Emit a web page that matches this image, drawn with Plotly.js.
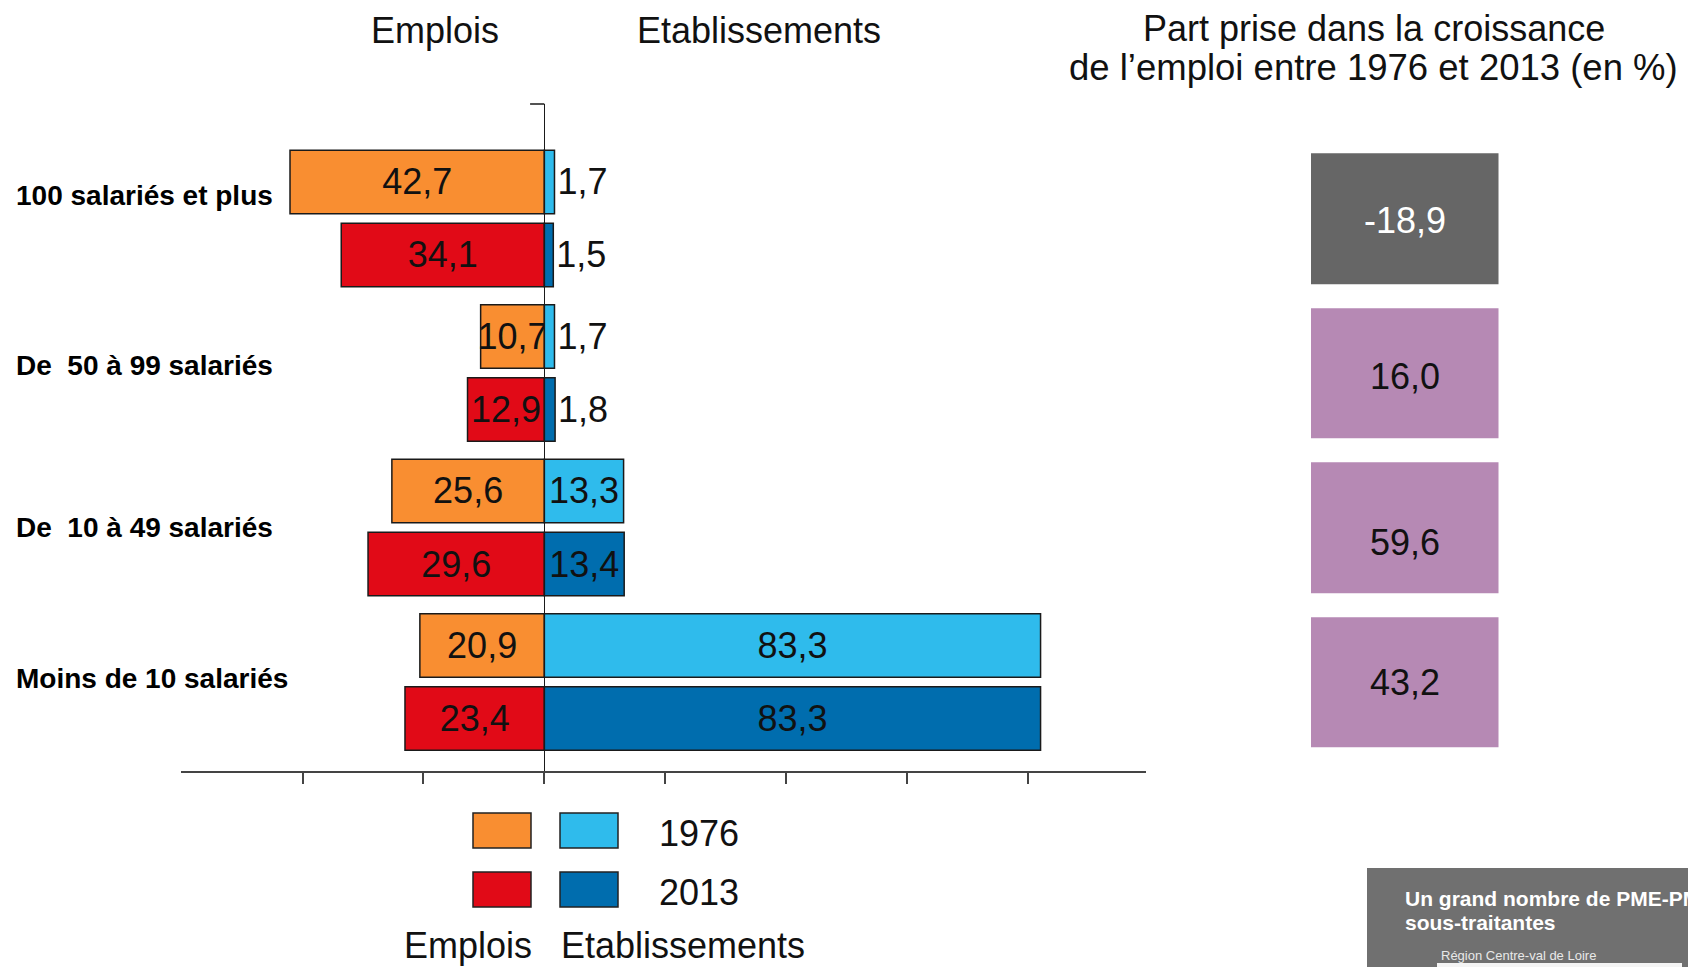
<!DOCTYPE html>
<html>
<head>
<meta charset="utf-8">
<script src="https://cdn.plot.ly/plotly-3.0.1.min.js"></script>
<style>html,body{margin:0;padding:0;background:#fff;overflow:hidden}</style>
</head>
<body>
<div id="chart" style="width:1688px;height:967px"></div>
<script>
// ---- data ----
const categories = ['100 salariés et plus', 'De \u00a050 à 99 salariés', 'De \u00a010 à 49 salariés', 'Moins de 10 salariés'];
const emplois1976 = [42.7, 10.7, 25.6, 20.9];
const emplois2013 = [34.1, 12.9, 29.6, 23.4];
const etab1976 = [1.7, 1.7, 13.3, 83.3];
const etab2013 = [1.5, 1.8, 13.4, 83.3];
const partCroissance = [-18.9, 16.0, 59.6, 43.2];
const years = ['1976', '2013'];

// ---- styles ----
const FONT = 'Liberation Sans, Arial, Helvetica, sans-serif';
const C_EMP76 = '#F98E31', C_EMP13 = '#E10A17', C_ETA76 = '#2FBBEC', C_ETA13 = '#006DAE';
const C_NEG = '#666666', C_POS = '#B689B4';
const etabTextPos = ['outside', 'outside', 'inside', 'inside'];
const labelShift = [23, 7, 0, 4];
const boxTextShift = [-2, -4, -15, 0];
const TICK_STEP = 20.3;

const W = 1688, H = 967, ML = 181, MR = 10, MT = 104, MB = 196;
const PW = W - ML - MR, PH = H - MT - MB;
const px = x => (x - ML) / PW;
const py = y => (H - MB - y) / PH;
const fmt = v => v.toFixed(1).replace('.', ',');

function barTrace(vals, sign, color, group, textpos) {
  return {
    type: 'bar', orientation: 'h',
    y: categories, x: vals.map(v => sign * v),
    text: vals.map(fmt), textposition: textpos,
    offsetgroup: group,
    marker: {color: color, line: {color: '#1a1a1a', width: 1.5}},
    textfont: {family: FONT, size: 36, color: '#111'},
    insidetextanchor: 'middle', textangle: 0, constraintext: 'none',
    cliponaxis: false, hoverinfo: 'skip', showlegend: false
  };
}

const traces = [
  barTrace(emplois1976, -1, C_EMP76, years[0], 'inside'),
  barTrace(emplois2013, -1, C_EMP13, years[1], 'inside'),
  barTrace(etab1976, 1, C_ETA76, years[0], etabTextPos),
  barTrace(etab2013, 1, C_ETA13, years[1], etabTextPos),
  {
    type: 'heatmap', x: [0], y: categories, z: partCroissance.map(v => [v]),
    xaxis: 'x2', yaxis: 'y', zmin: -1, zmax: 1,
    colorscale: [[0, C_NEG], [0.5, C_NEG], [0.5, C_POS], [1, C_POS]],
    showscale: false, ygap: 24, xgap: 0, hoverinfo: 'skip'
  }
];

const ann = [];
function txt(text, x, y, size, opts) {
  ann.push(Object.assign({
    text: text, xref: 'paper', yref: 'paper', x: px(x), y: py(y),
    xanchor: 'center', yanchor: 'middle', showarrow: false,
    font: {family: FONT, size: size, color: '#111'}
  }, opts || {}));
}
txt('Emplois', 435, 30, 36);
txt('Etablissements', 759, 30, 36);
txt('Part prise dans la croissance', 1374, 29, 36);
txt('de l\u2019emploi entre 1976 et 2013 (en %)', 1373, 68, 36.5);
categories.forEach((c, i) => {
  ann.push({
    text: '<b>' + c + '</b>', xref: 'paper', yref: 'y', x: px(14), y: c,
    xanchor: 'left', yanchor: 'middle', yshift: labelShift[i], showarrow: false,
    font: {family: FONT, size: 28, color: '#000'}
  });
});
partCroissance.forEach((v, i) => {
  ann.push({
    text: fmt(v), xref: 'x2', yref: 'y', x: 0, y: categories[i],
    xanchor: 'center', yanchor: 'middle', yshift: boxTextShift[i], showarrow: false,
    font: {family: FONT, size: 36, color: v < 0 ? '#ffffff' : '#111111'}
  });
});
txt(years[0], 657, 833, 36, {xanchor: 'left'});
txt(years[1], 657, 892, 36, {xanchor: 'left'});
txt('Emplois', 467.5, 945, 36);
txt('Etablissements', 683, 945, 36);
txt('<b>Un grand nombre de PME-PMI</b>', 1403, 898, 21, {xanchor: 'left', font: {family: FONT, size: 21, color: '#ffffff'}});
txt('<b>sous-traitantes</b>', 1403, 922, 21, {xanchor: 'left', font: {family: FONT, size: 21, color: '#ffffff'}});
txt('Région Centre-val de Loire', 1439, 955, 13, {xanchor: 'left', font: {family: FONT, size: 13, color: '#e8e8e8'}});

const shapes = [];
function rect(x0, y0, x1, y1, fill, lineW) {
  shapes.push({type: 'rect', xref: 'paper', yref: 'paper', x0: px(x0), x1: px(x1), y0: py(y1), y1: py(y0),
    fillcolor: fill, line: {color: '#222', width: lineW}, layer: 'above'});
}
rect(473, 813, 531, 848, C_EMP76, 1.5);
rect(560, 813, 618, 848, C_ETA76, 1.5);
rect(473, 872, 531, 907, C_EMP13, 1.5);
rect(560, 872, 618, 907, C_ETA13, 1.5);
rect(1367, 868, 1700, 990, '#707070', 0);
rect(1437, 963, 1682, 990, '#f4f4f4', 0);
shapes.push({type: 'line', xref: 'x', yref: 'paper', x0: -2.4, x1: 0, y0: 1, y1: 1,
  line: {color: '#1a1a1a', width: 1.5}});

const layout = {
  width: W, height: H,
  margin: {l: ML, r: MR, t: MT, b: MB, pad: 0},
  paper_bgcolor: '#fff', plot_bgcolor: 'rgba(0,0,0,0)',
  barmode: 'group', bargap: 0.055, bargroupgap: 0.13,
  hovermode: false, showlegend: false,
  font: {family: FONT, color: '#111'},
  xaxis: {
    domain: [0, px(1146)], range: [-61, 101],
    zeroline: true, zerolinecolor: '#1a1a1a', zerolinewidth: 1.5,
    showgrid: false, showticklabels: false,
    ticks: 'outside', ticklen: 11, tickwidth: 2, tickcolor: '#444',
    tickmode: 'array', tickvals: [-2, -1, 0, 1, 2, 3, 4].map(k => k * TICK_STEP),
    showline: true, linecolor: '#444', linewidth: 2, fixedrange: true
  },
  yaxis: {
    type: 'category', range: [3.576, -0.741],
    showgrid: false, zeroline: false, showline: false, showticklabels: false, ticks: '', fixedrange: true
  },
  xaxis2: {domain: [px(1311), px(1498.5)], range: [-0.5, 0.5], anchor: 'y', visible: false, fixedrange: true},
  annotations: ann,
  shapes: shapes
};

Plotly.newPlot('chart', traces, layout, {displayModeBar: false, staticPlot: true});
</script>
</body>
</html>
